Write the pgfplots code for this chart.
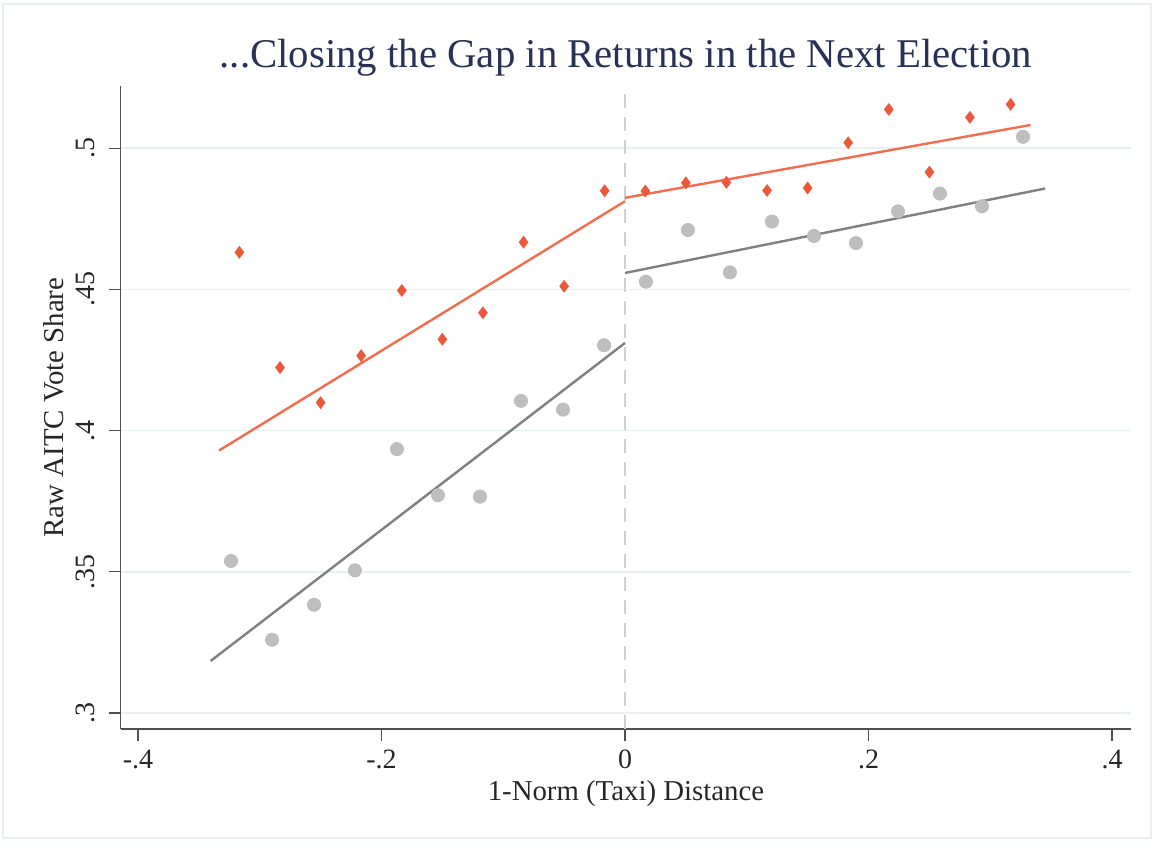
\documentclass[border=0pt]{standalone}
\usepackage{fontspec}
\setmainfont{Liberation Serif}
\usepackage{pgfplots}
\pgfplotsset{compat=1.18}

\definecolor{stred}{RGB}{236,88,58}
\definecolor{stredline}{RGB}{242,108,78}
\definecolor{stgray}{RGB}{190,190,190}
\definecolor{stgrayline}{RGB}{128,128,128}
\definecolor{gridc}{RGB}{232,240,241}
\definecolor{zeroc}{RGB}{200,212,212}
\definecolor{titlec}{RGB}{40,50,84}
\definecolor{axisc}{RGB}{80,80,80}

% binned means, below and above the cut
\pgfplotstableread{
x y
-0.3167 0.4631
-0.2833 0.4223
-0.2500 0.4099
-0.2167 0.4265
-0.1833 0.4496
-0.1500 0.4323
-0.1167 0.4417
-0.0833 0.4667
-0.0500 0.4511
-0.0167 0.4849
0.0167 0.4848
0.0500 0.4877
0.0833 0.4879
0.1167 0.4850
0.1500 0.4859
0.1833 0.5019
0.2167 0.5137
0.2500 0.4915
0.2833 0.5109
0.3167 0.5155
}\redbins
\pgfplotstableread{
x y
-0.3236 0.3538
-0.2899 0.3259
-0.2554 0.3383
-0.2218 0.3505
-0.1873 0.3934
-0.1536 0.3771
-0.1191 0.3766
-0.0854 0.4105
-0.0509 0.4074
-0.0172 0.4302
0.0172 0.4527
0.0517 0.4710
0.0862 0.4560
0.1207 0.4740
0.1552 0.4689
0.1897 0.4664
0.2242 0.4776
0.2587 0.4839
0.2932 0.4794
0.3269 0.5040
}\graybins

\begin{document}
\begin{tikzpicture}[x=1pt,y=1pt]
\path (0,0) rectangle (577,421.5);
\draw[gridc, line width=0.8pt] (1.5,2.5) rectangle (575.5,419.5);
\begin{axis}[
  at={(60.4pt,57pt)}, anchor=south west,
  scale only axis, width=505.1pt, height=321.5pt,
  xmin=-0.4141, xmax=0.4156, ymin=0.2943, ymax=0.522,
  axis x line*=bottom, axis y line*=left,
  axis line style={-, axisc, line width=0.6pt},
  tick align=outside, major tick length=6pt,
  tick style={axisc, line width=0.6pt},
  xtick={-0.4,-0.2,0,0.2,0.4}, xticklabels={-.4,-.2,0,.2,.4},
  ytick={0.3,0.35,0.4,0.45,0.5}, yticklabels={.3,.35,.4,.45,.5},
  ticklabel style={font=\fontsize{14}{17}\selectfont, text=black!85},
  xticklabel style={anchor=base, yshift=-13.75pt},
  yticklabel style={rotate=90, anchor=south, yshift=3.5pt},
  ymajorgrids, grid style={gridc, line width=0.8pt},
  title={...Closing the Gap in Returns in the Next Election},
  title style={font=\fontsize{20.4}{24}\selectfont, text=titlec, at={(axis description cs:0.5,1)}, anchor=base, yshift=3.3pt},
  xlabel={1-Norm (Taxi) Distance},
  ylabel={Raw AITC Vote Share},
  every axis x label/.style={at={(axis description cs:0.5,-0.1104)}, anchor=base, font=\fontsize{14.4}{17}\selectfont, text=black!85},
  every axis y label/.style={at={(axis description cs:-0.0572,0.5)}, rotate=90, anchor=base, font=\fontsize{14.4}{17}\selectfont, text=black!85},
  clip=false,
]
\addplot[zeroc, line width=1pt, dash pattern=on 7pt off 4.5pt] coordinates {(0,0.2943) (0,0.522)};
\addplot[only marks, color=stgray, mark=*, mark size=3.3pt, mark options={draw=stgray, fill=stgray}] table {\graybins};
\addplot[only marks, color=stred, mark=diamond*, mark size=2.9pt, mark options={draw=stred, fill=stred}] table {\redbins};
\addplot[stgrayline, line width=1.2pt] coordinates {(-0.3403,0.3184) (0,0.4310)};
\addplot[stgrayline, line width=1.2pt] coordinates {(0,0.4558) (0.3450,0.4857)};
\addplot[stredline, line width=1.2pt] coordinates {(-0.3335,0.3929) (0,0.4812)};
\addplot[stredline, line width=1.2pt] coordinates {(0,0.4824) (0.3331,0.5082)};
\end{axis}
\end{tikzpicture}
\end{document}
